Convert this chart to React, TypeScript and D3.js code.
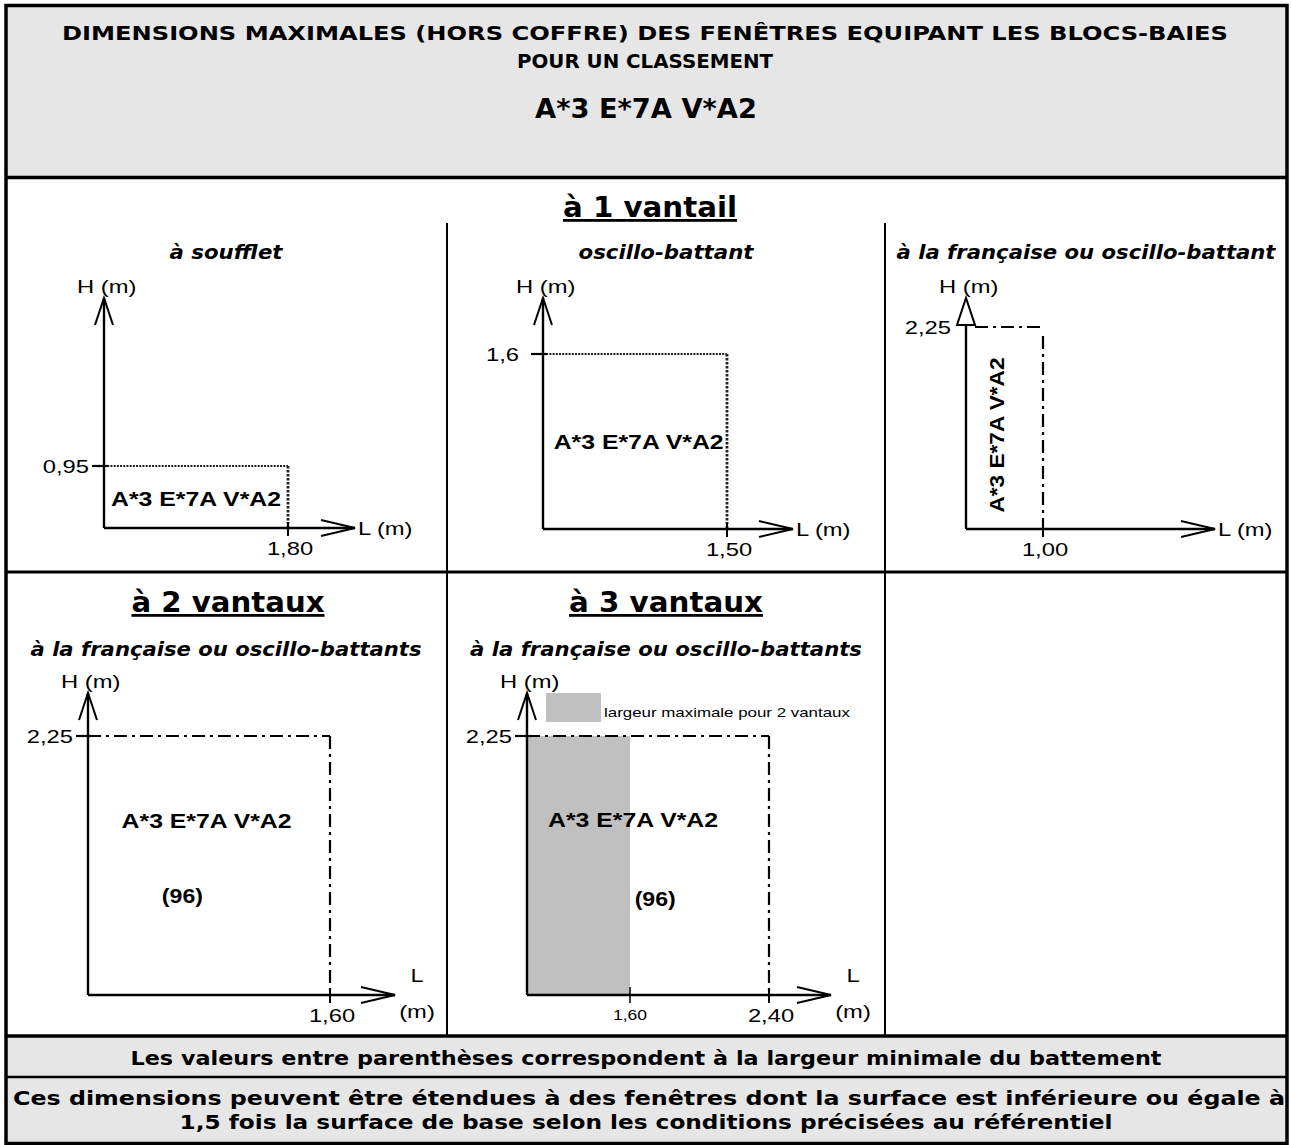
import * as d3 from 'd3';

const W = 1291;
const H = 1145;

const headerLines = [
  'DIMENSIONS MAXIMALES (HORS COFFRE) DES FENÊTRES EQUIPANT LES BLOCS-BAIES',
  'POUR UN CLASSEMENT',
];
const classement = 'A*3 E*7A V*A2';
const groupTitles = ['à 1 vantail', 'à 2 vantaux', 'à 3 vantaux'];
const openingTypes = [
  'à soufflet',
  'oscillo-battant',
  'à la française ou oscillo-battant',
  'à la française ou oscillo-battants',
  'à la française ou oscillo-battants',
];
const maxWidth = [1.8, 1.5, 1.0, 1.6, 2.4];
const maxHeight = [0.95, 1.6, 2.25, 2.25, 2.25];
const widthLabels = ['1,80', '1,50', '1,00', '1,60', '2,40'];
const heightLabels = ['0,95', '1,6', '2,25', '2,25', '2,25'];
const battement = ['', '', '', '(96)', '(96)'];
const twoLeafMaxWidth = 1.6;
const twoLeafLabel = '1,60';
const legendLabel = 'largeur maximale pour 2 vantaux';
const footnotes = [
  'Les valeurs entre parenthèses correspondent à la largeur minimale du battement',
  'Ces dimensions peuvent être étendues à des fenêtres dont la surface est inférieure ou égale à',
  '1,5 fois la surface de base selon les conditions précisées au référentiel',
];

const VERDANA = '"DejaVu Sans", Verdana, sans-serif';
const ARIAL = '"Liberation Sans", Arial, sans-serif';
const GREY = '#e6e6e6';
const SX = 1.25; // horizontal stretch of the arial labels

// pixel frame of each small diagram
const layout = [
  { x0: 104, x1: 288, y0: 528, y1: 466, tipX: 355, tipY: 298, dash: 'dot', label: [0.5, 0.35] },
  { x0: 543, x1: 727, y0: 529, y1: 354, tipX: 793, tipY: 298, dash: 'dot', label: [0.52, 0.46] },
  { x0: 966, x1: 1043, y0: 529, y1: 327, tipX: 1215, tipY: 298, dash: 'dashdot', label: [0.49, 0.5], rotate: true },
  { x0: 88, x1: 330, y0: 995, y1: 736, tipX: 395, tipY: 693, dash: 'dashdot', label: [0.49, 0.645], bat: [0.39, 0.355] },
  { x0: 527, x1: 769, y0: 995, y1: 736, tipX: 831, tipY: 693, dash: 'dashdot', label: [0.674, 0.649], bat: [0.727, 0.345], mid: 630 },
];
const colCenters = [226, 666, 1086];
const subtitleLen = [113, 175, 379, 391, 392];

function Stretch({ x, y, text, size = 19, anchor = 'middle', weight = 'normal', sx = SX }: any) {
  return (
    <text
      transform={`translate(${x},${y}) scale(${sx},1)`}
      textAnchor={anchor}
      fontFamily={ARIAL}
      fontSize={size}
      fontWeight={weight}
      fill="#000"
    >
      {text}
    </text>
  );
}

function Fit({ x, y, text, len, size, weight = 'bold', italic = false, family = VERDANA, underline = false, rotate = 0 }: any) {
  return (
    <text
      x={x}
      y={y}
      transform={rotate ? `rotate(${rotate},${x},${y})` : undefined}
      textAnchor="middle"
      textLength={len}
      lengthAdjust="spacingAndGlyphs"
      fontFamily={family}
      fontSize={size}
      fontWeight={weight}
      fontStyle={italic ? 'italic' : 'normal'}
      textDecoration={underline ? 'underline' : undefined}
      fill="#000"
    >
      {text}
    </text>
  );
}

function Diagram({ i }: { i: number }) {
  const L = layout[i];
  const x =
    L.mid != null
      ? d3.scaleLinear().domain([0, twoLeafMaxWidth, maxWidth[i]]).range([L.x0, L.mid, L.x1])
      : d3.scaleLinear().domain([0, maxWidth[i]]).range([L.x0, L.x1]);
  const y = d3.scaleLinear().domain([0, maxHeight[i]]).range([L.y0, L.y1]);
  const xr = x(maxWidth[i]);
  const yr = y(maxHeight[i]);
  const closed = i === 2;
  const twoLine = i >= 3;
  const bound = d3.line();

  return (
    <g>
      {L.mid != null && (
        <rect x={x(0)} y={yr} width={x(twoLeafMaxWidth) - x(0)} height={y(0) - yr} fill="#c0c0c0" />
      )}
      {/* limits */}
      {L.dash === 'dot' ? (
        <g fill="none" stroke="#222">
          <path d={bound([[x(0), yr], [xr, yr]])!} strokeWidth={1.8} strokeDasharray="2,1.2" />
          <path d={bound([[xr, yr], [xr, y(0)]])!} strokeWidth={2.8} strokeDasharray="2.5,1.5" />
        </g>
      ) : (
        <g fill="none" stroke="#000" strokeWidth={2.2}>
          <path d={bound([[x(0) + (closed ? 9 : 0), yr], [xr, yr]])!} strokeDasharray="13,5,3,5" />
          <path d={bound([[xr, yr + (closed ? 9 : 0)], [xr, y(0)]])!} strokeDasharray="13,5,3,5" />
        </g>
      )}
      {/* axes */}
      <g fill="none" stroke="#000" strokeWidth={2.4}>
        <path d={bound([[x(0), y(0)], [x(0), closed ? L.tipY + 27 : L.tipY]])!} />
        <path d={bound([[x(0), y(0)], [L.tipX, y(0)]])!} />
        <path
          d={`M${x(0) - 9},${L.tipY + 27}L${x(0)},${L.tipY}L${x(0) + 9},${L.tipY + 27}${closed ? 'Z' : ''}`}
          fill={closed ? '#fff' : 'none'}
          strokeWidth={2}
        />
        <path d={`M${L.tipX - 34},${y(0) - 8}L${L.tipX},${y(0)}L${L.tipX - 34},${y(0) + 8}`} strokeWidth={2} />
        {!closed && <path d={bound([[x(0) - 12, yr], [x(0) + 4, yr]])!} strokeWidth={2.2} />}
        <path d={bound([[xr, y(0) - 6], [xr, y(0) + 8]])!} strokeWidth={2} />
        {L.mid != null && (
          <path d={bound([[x(twoLeafMaxWidth), y(0) - 8], [x(twoLeafMaxWidth), y(0) + 8]])!} strokeWidth={1.5} />
        )}
      </g>
      {/* axis labels */}
      <Stretch x={x(0) - 27} y={L.tipY - 5} text="H (m)" anchor="start" />
      {twoLine ? (
        <>
          <Stretch x={L.tipX + 22} y={y(0) - 13} text="L" />
          <Stretch x={L.tipX + 22} y={y(0) + 23} text="(m)" />
        </>
      ) : (
        <Stretch x={L.tipX + 3} y={y(0) + 7} text="L (m)" anchor="start" />
      )}
      <Stretch x={x(0) - (i === 1 ? 24 : 15)} y={yr + 7} text={heightLabels[i]} anchor="end" />
      <Stretch x={xr + 2} y={y(0) + 27} text={widthLabels[i]} />
      {L.mid != null && <Stretch x={x(twoLeafMaxWidth)} y={y(0) + 25} text={twoLeafLabel} size={14} />}
      {/* classement */}
      {L.rotate ? (
        <Fit
          x={x(maxWidth[i] * L.label[0])}
          y={y(maxHeight[i] * L.label[1]) + 7}
          text={classement}
          len={155}
          size={21}
          family={ARIAL}
          rotate={-90}
        />
      ) : (
        <Fit
          x={x(maxWidth[i] * L.label[0])}
          y={y(maxHeight[i] * L.label[1])}
          text={classement}
          len={170}
          size={21}
          family={ARIAL}
        />
      )}
      {L.bat && (
        <Stretch
          x={x(maxWidth[i] * L.bat[0])}
          y={y(maxHeight[i] * L.bat[1])}
          text={battement[i]}
          size={21}
          weight="bold"
          sx={1.1}
        />
      )}
      {L.mid != null && (
        <g>
          <rect x={546} y={693} width={55} height={29} fill="#c0c0c0" />
          <Stretch x={604} y={717} text={legendLabel} size={13} anchor="start" sx={1.3} />
        </g>
      )}
    </g>
  );
}

export default function App() {
  return (
    <svg width={W} height={H} style={{ position: 'absolute', left: 0, top: 0, background: '#fff' }}>
      {/* grey bands */}
      <rect x={6} y={5} width={1281} height={173} fill={GREY} />
      <rect x={6} y={1036} width={1281} height={109} fill={GREY} />

      {/* header */}
      <Fit x={645} y={40} text={headerLines[0]} len={1166} size={20} />
      <Fit x={645} y={68} text={headerLines[1]} len={256} size={20} />
      <Fit x={646} y={118} text={classement} len={222} size={27} />

      {/* group titles */}
      <Fit x={650} y={217} text={groupTitles[0]} len={174} size={28} underline />
      <Fit x={228} y={612} text={groupTitles[1]} len={193} size={28} underline />
      <Fit x={666} y={612} text={groupTitles[2]} len={194} size={28} underline />

      {/* opening types */}
      {openingTypes.map((t, i) => (
        <Fit
          key={i}
          x={colCenters[i < 3 ? i : i - 3]}
          y={i < 3 ? 259 : 656}
          text={t}
          len={subtitleLen[i]}
          size={20}
          italic
        />
      ))}

      {layout.map((_, i) => (
        <Diagram key={i} i={i} />
      ))}

      {/* footnotes */}
      <Fit x={646} y={1065} text={footnotes[0]} len={1031} size={19} />
      <Fit x={649} y={1105} text={footnotes[1]} len={1272} size={19} />
      <Fit x={646} y={1129} text={footnotes[2]} len={933} size={19} />

      {/* frame */}
      <g stroke="#000" fill="none">
        <rect x={6} y={5.5} width={1281} height={1138} strokeWidth={3.5} />
        <line x1={6} x2={1287} y1={177.5} y2={177.5} strokeWidth={3.5} />
        <line x1={6} x2={1287} y1={572} y2={572} strokeWidth={3} />
        <line x1={447} x2={447} y1={223} y2={1036} strokeWidth={2} />
        <line x1={885} x2={885} y1={223} y2={1036} strokeWidth={2} />
        <line x1={6} x2={1287} y1={1036} y2={1036} strokeWidth={3.5} />
        <line x1={6} x2={1287} y1={1077} y2={1077} strokeWidth={2.5} />
      </g>
    </svg>
  );
}
